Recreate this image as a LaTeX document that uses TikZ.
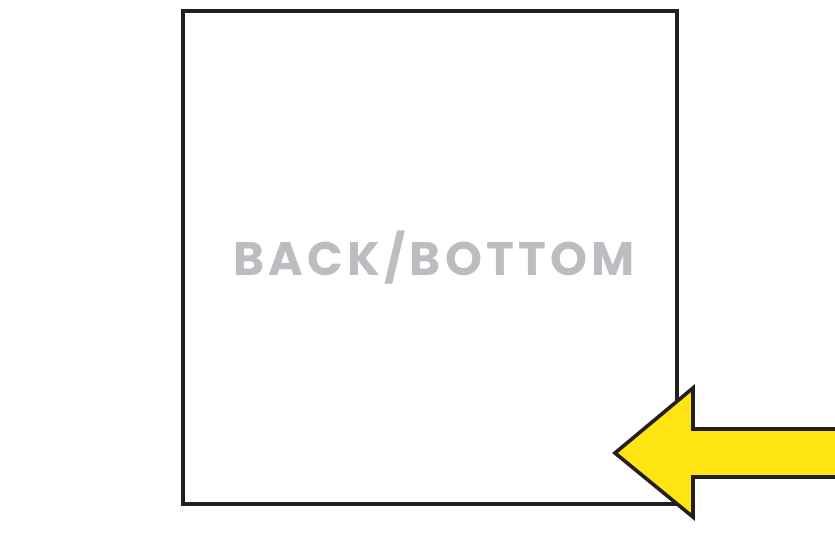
\documentclass[tikz,border=0pt]{standalone}
\usepackage{fontspec}
\usepackage{xcolor}
\usepackage{tikz}
\usetikzlibrary{positioning}
\newfontfamily\panelfont{Poppins}[LetterSpace=9]
\definecolor{inkdark}{HTML}{231F20}
\definecolor{labelgray}{HTML}{BCBDC0}
\definecolor{pointyellow}{HTML}{FFE414}

\begin{document}
\begin{tikzpicture}[x=1pt, y=1pt,
    panel/.style={draw=inkdark, line width=3.6pt, minimum width=494pt,
                  minimum height=493pt, inner sep=0pt},
    pointer/.style={draw=inkdark, fill=pointyellow, line width=3.6pt,
                    line join=miter}]
  \useasboundingbox (0,0) rectangle (835,544);
  \node[panel] (back) at (430,286.5) {};
  \node[labelgray, font=\panelfont\bfseries\fontsize{47}{47}\selectfont]
        (lbl) at (434,286.5) {BACK/BOTTOM};
  % the yellow pointer, running off the right edge
  \draw[pointer] (615,91) -- (693,156) -- (693,115) -- (850,115)
        -- (850,67) -- (693,67) -- (693,27) -- cycle;
\end{tikzpicture}
\end{document}
